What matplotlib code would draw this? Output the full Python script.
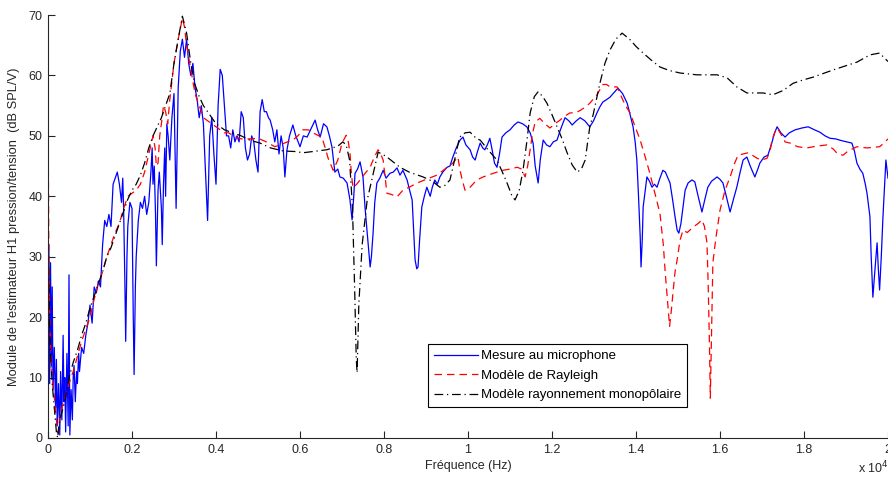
import matplotlib
matplotlib.use("Agg")
import matplotlib.pyplot as plt
from matplotlib.ticker import FuncFormatter

plt.rcParams['font.family'] = ['Liberation Sans', 'DejaVu Sans']

# frequency in units of 10^4 Hz, levels in dB SPL/V
mesure_f = [0.000, 0.002, 0.004, 0.006, 0.008, 0.010, 0.012, 0.015, 0.018, 0.020,
            0.022, 0.025, 0.028, 0.030, 0.033, 0.036, 0.038, 0.040, 0.042, 0.045,
            0.048, 0.050, 0.052, 0.055, 0.058, 0.060, 0.062, 0.065, 0.068, 0.070,
            0.073, 0.075, 0.080, 0.085, 0.090, 0.095, 0.100, 0.105, 0.110, 0.115,
            0.120, 0.125, 0.130, 0.135, 0.140, 0.145, 0.150, 0.155, 0.160, 0.165,
            0.170, 0.175, 0.178, 0.180, 0.183, 0.185, 0.188, 0.190, 0.195, 0.200,
            0.203, 0.205, 0.208, 0.210, 0.215, 0.220, 0.225, 0.230, 0.235, 0.240,
            0.245, 0.248, 0.250, 0.253, 0.256, 0.258, 0.262, 0.265, 0.270, 0.272,
            0.275, 0.278, 0.280, 0.283, 0.286, 0.290, 0.295, 0.300, 0.305, 0.310,
            0.315, 0.320, 0.325, 0.330, 0.335, 0.340, 0.345, 0.350, 0.355, 0.360,
            0.365, 0.370, 0.375, 0.380, 0.385, 0.390, 0.395, 0.400, 0.405, 0.410,
            0.415, 0.420, 0.425, 0.430, 0.435, 0.440, 0.445, 0.450, 0.455, 0.460,
            0.465, 0.470, 0.475, 0.480, 0.485, 0.490, 0.495, 0.500, 0.505, 0.510,
            0.515, 0.520, 0.525, 0.529, 0.535, 0.540, 0.545, 0.550, 0.555, 0.560,
            0.564, 0.569, 0.575, 0.583, 0.590, 0.600, 0.608, 0.617, 0.625, 0.636,
            0.642, 0.648, 0.656, 0.664, 0.670, 0.676, 0.683, 0.690, 0.695, 0.703,
            0.712, 0.719, 0.724, 0.728, 0.731, 0.737, 0.743, 0.750, 0.755, 0.760,
            0.767, 0.770, 0.774, 0.778, 0.783, 0.790, 0.798, 0.805, 0.814, 0.822,
            0.831, 0.838, 0.845, 0.850, 0.855, 0.861, 0.867, 0.874, 0.878, 0.881,
            0.885, 0.890, 0.896, 0.902, 0.910, 0.915, 0.921, 0.927, 0.933, 0.940,
            0.950, 0.957, 0.964, 0.972, 0.981, 0.988, 0.995, 1.005, 1.011, 1.017,
            1.023, 1.029, 1.035, 1.040, 1.046, 1.052, 1.058, 1.063, 1.069, 1.075,
            1.081, 1.090, 1.100, 1.110, 1.119, 1.130, 1.140, 1.148, 1.155, 1.160,
            1.167, 1.172, 1.179, 1.187, 1.195, 1.203, 1.212, 1.220, 1.231, 1.240,
            1.248, 1.258, 1.267, 1.278, 1.290, 1.299, 1.307, 1.314, 1.321, 1.330,
            1.338, 1.348, 1.357, 1.368, 1.379, 1.386, 1.393, 1.398, 1.402, 1.406,
            1.410, 1.412, 1.415, 1.417, 1.422, 1.426, 1.432, 1.438, 1.444, 1.450,
            1.457, 1.464, 1.470, 1.476, 1.481, 1.487, 1.493, 1.498, 1.502, 1.507,
            1.512, 1.517, 1.524, 1.533, 1.540, 1.548, 1.557, 1.564, 1.571, 1.580,
            1.593, 1.600, 1.607, 1.615, 1.624, 1.632, 1.640, 1.648, 1.655, 1.664,
            1.672, 1.683, 1.690, 1.695, 1.705, 1.714, 1.722, 1.730, 1.736, 1.745,
            1.755, 1.765, 1.779, 1.795, 1.810, 1.825, 1.838, 1.850, 1.862, 1.875,
            1.890, 1.902, 1.914, 1.920, 1.926, 1.933, 1.940, 1.946, 1.950, 1.957,
            1.960, 1.964, 1.968, 1.974, 1.977, 1.980, 1.984, 1.988, 1.992, 1.995,
            2.000]
mesure_db = [10, 32, 9, 29, 12, 25, 8, 15, 5, 13,
             2, 9, 0.5, 11, 3, 17, 6, 10, 1, 14,
             2, 27, 0.5, 8, 3, 10, 12, 6, 11, 9,
             14, 11, 15, 14, 17, 19, 22, 19, 25, 24,
             26, 25, 32, 36, 35, 37, 35, 42, 43, 44,
             42, 39, 43, 38, 26, 16, 30, 35, 39, 38,
             20, 10.5, 25, 30, 36, 39, 38, 40, 37, 39,
             44, 48, 42, 45, 37, 28.5, 41, 44, 38, 32,
             42, 48, 40, 52, 50, 46, 53, 57, 38, 58,
             64, 66, 63, 66, 62, 60, 62, 58, 56, 53,
             55, 52, 44, 36, 50, 53, 47, 42, 55, 61,
             60, 55, 50, 50, 48, 51, 49, 50, 49, 54,
             53, 48, 46, 47, 50, 49, 46, 44, 54, 56,
             54, 54, 53, 52.6, 51, 49, 51, 47, 50, 48,
             43.2, 47.7, 50, 51.8, 50, 48.2, 50, 49.8, 51, 52.6,
             51, 49.8, 52, 51.5, 50, 48.2, 44, 44.5, 43.2, 43,
             42.2, 39.4, 36.1, 40, 43.8, 44.5, 45.7, 43.2, 38, 33.9,
             28.3, 30, 33.9, 39, 42.2, 43, 44.3, 43, 43.8, 44,
             44.7, 43.5, 44.3, 43.5, 42.7, 41, 39.4, 29.5, 28, 28.3,
             33, 38.2, 40, 41.5, 40, 41.5, 42.7, 42, 43.2, 44,
             44.8, 45, 46.5, 48, 49.3, 49.8, 48.5, 47.7, 46.5, 46,
             47.5, 48.8, 48, 47.7, 48.5, 49.6, 47.5, 45.5, 44.8, 47,
             49.8, 50.5, 51, 51.8, 52.3, 52, 51.5, 50.5, 48.8, 45,
             42.2, 46, 49.3, 48.5, 48.2, 49, 49.3, 51, 53, 52.5,
             51.8, 52.5, 53, 52.5, 51.5, 52.5, 53.8, 54.8, 55.6, 56,
             56.4, 57.2, 57.9, 57, 55.4, 53.5, 51.5, 49, 46, 40,
             33.3, 28.3, 33, 38.2, 41, 43.2, 42.5, 41.5, 42, 41.5,
             43, 44.3, 44, 43, 42.2, 39.5, 36.6, 34.4, 33.9, 35.5,
             38.2, 41, 42.2, 42.7, 42.4, 40, 37.4, 39.5, 41.5, 42.5,
             43.2, 42.8, 42.2, 40, 37.4, 39.5, 41.5, 44, 46, 46.5,
             45, 43.2, 44.5, 45.5, 46.5, 46.8, 48.5, 50.5, 51.5, 50.5,
             49.8, 50.5, 51, 51.3, 51.5, 51, 50.6, 50, 49.6, 49.5,
             49.2, 49, 48.8, 47.5, 45.5, 44.5, 43.8, 42, 40.5, 36.6,
             30, 23.3, 27, 32.3, 28, 24.5, 30, 36.6, 42, 46,
             43]

rayleigh_f = [0.000, 0.001, 0.002, 0.004, 0.008, 0.012, 0.016, 0.020, 0.024, 0.028,
              0.033, 0.040, 0.050, 0.060, 0.070, 0.080, 0.090, 0.100, 0.110, 0.120,
              0.130, 0.140, 0.150, 0.160, 0.170, 0.180, 0.190, 0.200, 0.210, 0.220,
              0.230, 0.240, 0.250, 0.255, 0.258, 0.262, 0.266, 0.270, 0.275, 0.280,
              0.285, 0.290, 0.300, 0.310, 0.320, 0.325, 0.330, 0.340, 0.350, 0.360,
              0.370, 0.380, 0.390, 0.400, 0.410, 0.420, 0.430, 0.440, 0.450, 0.460,
              0.480, 0.500, 0.520, 0.540, 0.552, 0.570, 0.583, 0.595, 0.607, 0.620,
              0.631, 0.645, 0.652, 0.660, 0.667, 0.679, 0.690, 0.700, 0.710, 0.715,
              0.719, 0.722, 0.726, 0.735, 0.743, 0.755, 0.767, 0.777, 0.786, 0.792,
              0.798, 0.803, 0.807, 0.818, 0.831, 0.845, 0.860, 0.879, 0.900, 0.926,
              0.945, 0.964, 0.976, 0.981, 0.987, 0.993, 1.005, 1.021, 1.036, 1.060,
              1.083, 1.100, 1.117, 1.128, 1.136, 1.142, 1.148, 1.154, 1.160, 1.171,
              1.183, 1.195, 1.207, 1.219, 1.231, 1.243, 1.255, 1.267, 1.280, 1.290,
              1.307, 1.321, 1.330, 1.338, 1.355, 1.365, 1.375, 1.386, 1.398, 1.410,
              1.422, 1.433, 1.445, 1.457, 1.465, 1.470, 1.476, 1.480, 1.484, 1.488,
              1.493, 1.498, 1.505, 1.512, 1.522, 1.536, 1.548, 1.557, 1.563, 1.569,
              1.572, 1.575, 1.577, 1.580, 1.583, 1.590, 1.600, 1.612, 1.624, 1.635,
              1.643, 1.655, 1.667, 1.677, 1.688, 1.700, 1.712, 1.719, 1.724, 1.730,
              1.736, 1.745, 1.755, 1.767, 1.785, 1.807, 1.830, 1.855, 1.870, 1.880,
              1.893, 1.905, 1.926, 1.950, 1.980, 1.990, 2.000]
rayleigh_db = [57, 45, 30, 20, 12, 9, 6, 3, 0.8, 3,
               5, 6.5, 9, 11, 13.5, 16, 18, 20, 23, 25.5,
               27.5, 30, 32, 34, 35.5, 38, 40, 40.5, 41, 42,
               44, 47, 50, 48, 45, 45.5, 50, 52, 55, 54,
               52, 56, 62, 66, 69.5, 68, 65, 61, 57, 55,
               53, 52.5, 52, 51.5, 51, 50.5, 50.5, 50, 49.7, 49.5,
               49.5, 49.6, 49, 48.2, 48.5, 49, 49.3, 50, 51, 51,
               50.5, 50, 49.8, 48, 46.3, 44.3, 46, 48.8, 50.1, 49,
               47.2, 44, 41.4, 42, 42.7, 43.8, 44.8, 46.5, 47.7, 47,
               46, 43, 40.5, 40.3, 39.9, 41, 41.5, 42.2, 42.8, 43.5,
               44.5, 45.5, 46.5, 44.3, 42.5, 41, 41.5, 42.7, 43.2, 43.8,
               44.3, 44.5, 44.8, 44.5, 43.2, 45, 47.7, 50.5, 52.3, 52.9,
               52, 51.3, 52, 52.6, 53.3, 53.8, 53.8, 54.2, 54.8, 55.4,
               56.8, 58.5, 58.5, 58.1, 58.1, 56.5, 55, 53.8, 51.5, 49.3,
               46.5, 43.8, 40.5, 37.2, 32, 27, 22, 18.5, 21, 24,
               27.5, 29.5, 32.8, 34.4, 34, 34.9, 35.5, 36.1, 35, 32.3,
               25, 15, 6.6, 18, 29, 33, 37.7, 41, 43.2, 45.5,
               46.8, 47, 47.2, 46.8, 46.3, 46, 46.3, 47.5, 49.3, 50.5,
               51.3, 50.3, 49, 48.8, 48.2, 48, 48.3, 48.5, 47.8, 47,
               46.8, 47.5, 48.2, 48, 48.2, 48.8, 49.5]

monopole_f = [0.000, 0.001, 0.003, 0.006, 0.010, 0.015, 0.020, 0.023, 0.026, 0.030,
              0.040, 0.050, 0.060, 0.070, 0.080, 0.090, 0.100, 0.110, 0.120, 0.130,
              0.140, 0.150, 0.160, 0.170, 0.180, 0.190, 0.200, 0.210, 0.220, 0.230,
              0.240, 0.250, 0.260, 0.270, 0.280, 0.290, 0.300, 0.310, 0.320, 0.330,
              0.340, 0.350, 0.360, 0.370, 0.380, 0.390, 0.400, 0.420, 0.440, 0.460,
              0.480, 0.505, 0.530, 0.560, 0.590, 0.607, 0.630, 0.664, 0.690, 0.702,
              0.710, 0.718, 0.725, 0.730, 0.734, 0.736, 0.740, 0.748, 0.760, 0.775,
              0.786, 0.800, 0.807, 0.838, 0.860, 0.893, 0.915, 0.933, 0.945, 0.957,
              0.968, 0.980, 0.993, 1.005, 1.021, 1.029, 1.050, 1.069, 1.085, 1.093,
              1.105, 1.112, 1.122, 1.131, 1.140, 1.148, 1.158, 1.167, 1.178, 1.188,
              1.200, 1.212, 1.224, 1.236, 1.248, 1.260, 1.270, 1.279, 1.290, 1.298,
              1.314, 1.326, 1.338, 1.352, 1.367, 1.386, 1.400, 1.417, 1.437, 1.457,
              1.480, 1.505, 1.545, 1.593, 1.617, 1.640, 1.664, 1.702, 1.726, 1.750,
              1.774, 1.800, 1.821, 1.845, 1.869, 1.900, 1.926, 1.957, 1.980, 1.990,
              2.000]
monopole_db = [40, 30, 20, 14, 9, 5, 1, 0, 2, 3.5,
               6, 10, 12.5, 14.5, 17, 19, 21.5, 23.5, 25.5, 27.5,
               30, 31.5, 33.5, 35.5, 37.5, 39.5, 41, 42, 43.5, 45.5,
               48, 50, 51.5, 53, 55, 57, 62, 66, 69.8, 67,
               62, 58.5, 56.5, 55, 54, 53, 52, 51, 50.5, 50,
               49.3, 48.8, 48, 47.5, 47.4, 47.2, 47.4, 47.7, 48.3, 49,
               48.5, 46, 38, 25, 13, 10.8, 22, 32, 39.4, 44,
               47.3, 46.8, 46.5, 44.8, 44, 43.2, 42.5, 41.5, 41.8, 42.7,
               46, 49.8, 50.5, 50.6, 49.5, 49.3, 47.5, 46, 43.5, 42.2,
               40, 39.4, 41, 44.3, 49, 53.8, 56.5, 57.3, 56.5, 55.4,
               53.5, 51.5, 49.5, 47.2, 45.2, 44, 44.5, 46, 51.5, 53.5,
               58.7, 62, 64.2, 66, 67, 65.9, 64.8, 63.7, 62.5, 61.4,
               60.8, 60.4, 60.1, 60.1, 59.6, 58.1, 57.1, 57.1, 56.8, 57.5,
               58.7, 59.3, 59.7, 60.3, 60.9, 61.6, 62.2, 63.4, 63.7, 63,
               62.3]

x_ticks = [0, 0.2, 0.4, 0.6, 0.8, 1, 1.2, 1.4, 1.6, 1.8, 2]
y_ticks = [0, 10, 20, 30, 40, 50, 60, 70]

fig = plt.figure(figsize=(8.88, 4.82), dpi=100)
ax = fig.add_axes([48 / 888, 44 / 482, 840 / 888, 423 / 482])

ax.plot(mesure_f, mesure_db, color='#0000ff', lw=0.9, label='Mesure au microphone')
ax.plot(rayleigh_f, rayleigh_db, color='#ff0000', lw=0.9, linestyle=(0, (6, 4)),
        label='Modèle de Rayleigh')
ax.plot(monopole_f, monopole_db, color='black', lw=0.9, linestyle=(0, (7, 3, 1, 3)),
        label='Modèle rayonnement monopôlaire')

ax.set_xlim(0, 2)
ax.set_ylim(0, 70)
ax.set_xticks(x_ticks)
ax.set_yticks(y_ticks)
ax.xaxis.set_major_formatter(FuncFormatter(lambda v, p: '%g' % v))

axis_col = '#262626'
for side in ['top', 'right']:
    ax.spines[side].set_visible(False)
for side in ['left', 'bottom']:
    ax.spines[side].set_color(axis_col)
    ax.spines[side].set_linewidth(0.8)
ax.tick_params(direction='in', length=5, width=0.8, colors=axis_col, labelsize=9, pad=4)

ax.set_xlabel('Fréquence (Hz)', fontsize=9, color=axis_col, labelpad=3)
ax.set_ylabel("Module de l'estimateur H1 pression/tension  (dB SPL/V)",
              fontsize=9.3, color=axis_col, labelpad=6)
fig.text(858 / 888, 1 - 473 / 482, r'x 10$^{4}$', fontsize=9, color=axis_col,
         va='baseline', ha='left')

leg = ax.legend(loc='lower left', bbox_to_anchor=(0.452, 0.073), borderaxespad=0,
                fontsize=9.5, handlelength=3.4, handletextpad=0.2, labelspacing=0.55,
                fancybox=False, framealpha=1, borderpad=0.45)
leg.get_frame().set_edgecolor('black')
leg.get_frame().set_linewidth(0.8)

fig.savefig('out.png', dpi=100)
